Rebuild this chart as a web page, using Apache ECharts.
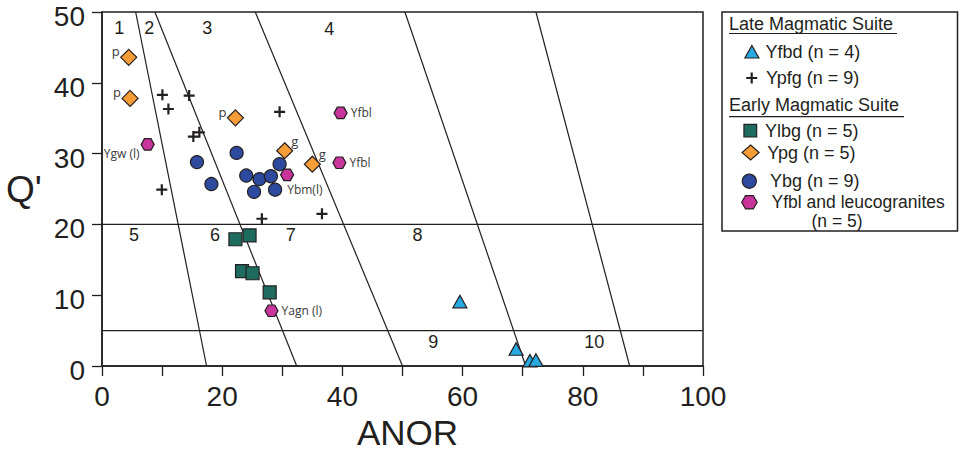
<!DOCTYPE html>
<html>
<head>
<meta charset="utf-8">
<script src="https://cdn.jsdelivr.net/npm/echarts@6/dist/echarts.min.js"></script>
<style>html,body{margin:0;padding:0;background:#fff;}#c{width:959px;height:452px;}</style>
</head>
<body>
<div id="c"></div>
<script>
// ---------- data ----------
const xTickLabels = [0, 20, 40, 60, 80, 100];
const yTickLabels = [0, 10, 20, 30, 40, 50];

const yfbd = [[59.55, 9.1], [68.9, 2.4], [71.2, 0.75], [72.2, 0.85]];
const ypfg = [[10.05, 38.3], [11.05, 36.3], [14.5, 38.2], [15.2, 32.4], [16.2, 33.0], [9.95, 24.9], [29.55, 35.9], [26.6, 20.8], [36.6, 21.5]];
const ylbg = [[22.2, 17.9], [24.55, 18.45], [23.3, 13.4], [25.05, 13.1], [27.9, 10.4]];
const ypg = [[4.45, 43.6], [4.67, 37.8], [22.2, 35.05], [30.4, 30.4], [35.0, 28.5]];
const ypgLabels = ['p', 'p', 'p', 'g', 'g'];
const ybg = [[15.8, 28.8], [18.2, 25.7], [22.4, 30.1], [24.0, 26.9], [26.2, 26.4], [28.1, 26.8], [29.55, 28.5], [25.3, 24.6], [28.8, 24.9]];
const ybgLabels = ['', '', '', '', '', '', '', '', 'Ybm(l)'];
const yfbl = [[7.6, 31.3], [30.8, 27.0], [39.7, 35.75], [39.5, 28.7], [28.2, 7.8]];
const yfblLabels = ['Ygw (l)', '', 'Yfbl', 'Yfbl', 'Yagn (l)'];

// field boundaries: ANOR where each line meets Q' = 50 (top) and Q' = 0 (bottom)
const boundaryTopX = [5.6, 8.8, 25.5, 50.4, 72.2];
const boundaryBottomX = [17.4, 32.4, 50.0, 70.5, 87.8];
const qLevels = [20, 5];

const fieldNames = ['1', '2', '3', '4', '5', '6', '7', '8', '9', '10'];
const fieldAnor = [2.88, 7.88, 17.5, 37.8, 5.32, 18.8, 31.4, 52.5, 55.1, 81.9];
const fieldQ = [47.7, 47.7, 47.7, 47.6, 18.5, 18.5, 18.5, 18.5, 3.43, 3.43];

const seriesNames = ['Yfbd (n = 4)', 'Ypfg (n = 9)', 'Ylbg (n = 5)', 'Ypg (n = 5)', 'Ybg (n = 9)', 'Yfbl and leucogranites (n = 5)'];
const groupTitles = ['Late Magmatic Suite', 'Early Magmatic Suite'];

// ---------- styles ----------
const INK = '#231f20';
const LBL = '#3a3a3a';
const AX_FONT = 'Liberation Sans, Arial, sans-serif';
const LG_FONT = 'Liberation Sans, Arial, sans-serif';
const PT_FONT = 'Open Sans, Noto Sans, sans-serif';
const CROSS = 'path://M4,0H6V4H10V6H6V10H4V6H0V4H4Z';
const HEX = 'path://M0,5L2.5,0.67L7.5,0.67L10,5L7.5,9.33L2.5,9.33Z';
const ptLabel = {fontFamily: PT_FONT, fontSize: 12, color: LBL};

const series = [];
// boundary lines
boundaryTopX.forEach((xt, i) => {
  series.push({type: 'line', data: [[xt, 50], [boundaryBottomX[i], 0]], showSymbol: false, symbol: 'none', silent: true,
    lineStyle: {color: INK, width: 1.2}, z: 1, animation: false});
});
qLevels.forEach(q => {
  series.push({type: 'line', data: [[0, q], [100, q]], showSymbol: false, symbol: 'none', silent: true,
    lineStyle: {color: INK, width: 1.2}, z: 1, animation: false});
});
// field numbers
series.push({type: 'scatter', silent: true, symbolSize: 1, itemStyle: {color: 'rgba(0,0,0,0)', opacity: 1}, z: 2,
  data: fieldNames.map((n, i) => ({value: [fieldAnor[i], fieldQ[i]], label: {show: true, formatter: n}})),
  label: {position: 'inside', fontFamily: AX_FONT, fontSize: 18, color: INK}});

const border = {borderColor: INK, borderWidth: 1.2, opacity: 1};
const emph = {disabled: true};
series.push({name: seriesNames[2], type: 'scatter', symbol: 'rect', symbolSize: 13, z: 3, emphasis: emph,
  itemStyle: Object.assign({color: '#1e6b5f'}, border), data: ylbg});
series.push({name: seriesNames[3], type: 'scatter', symbol: 'diamond', symbolSize: [16, 16], z: 3, emphasis: emph,
  itemStyle: Object.assign({color: '#f79d38'}, border),
  data: ypg.map((p, i) => ({value: p, label: Object.assign({show: true, formatter: ypgLabels[i], position: 'inside',
    offset: ypgLabels[i] === 'p' ? [-13, -6] : [10, -10]}, ptLabel, {fontSize: 13})}))});
series.push({name: seriesNames[4], type: 'scatter', symbol: 'circle', symbolSize: 13, z: 3, emphasis: emph,
  itemStyle: Object.assign({color: '#2e4a9e'}, border),
  data: ybg.map((p, i) => ybgLabels[i] ? {value: p, label: Object.assign({show: true, formatter: ybgLabels[i], position: 'right', distance: 5}, ptLabel)} : p)});
series.push({name: seriesNames[5], type: 'scatter', symbol: HEX, symbolSize: [13, 11.5], z: 3, emphasis: emph,
  itemStyle: Object.assign({color: '#c8349a'}, border),
  data: yfbl.map((p, i) => {
    const t = yfblLabels[i];
    if (!t) return p;
    const left = t.indexOf('Ygw') === 0;
    return {value: p, label: Object.assign({show: true, formatter: t, position: left ? 'left' : 'right',
      distance: left ? 1 : 3, offset: left ? [0, 9] : [0, 0]}, ptLabel)};
  })});
series.push({name: seriesNames[1], type: 'scatter', symbol: CROSS, symbolSize: 11, z: 3, emphasis: emph,
  itemStyle: {color: INK, borderWidth: 0, opacity: 1}, data: ypfg});
series.push({name: seriesNames[0], type: 'scatter', symbol: 'triangle', symbolSize: [14, 12.5], z: 3, emphasis: emph,
  itemStyle: Object.assign({color: '#27a9e1'}, border), data: yfbd});

// legends (one per entry so each icon sits where it does in the reference)
const legendSpecs = [
  {name: seriesNames[0], cx: 751.3, cy: 49, w: 14, h: 12.5, tx: 765},
  {name: seriesNames[1], cx: 751.7, cy: 74.5, w: 11, h: 11, tx: 766, noBorder: true},
  {name: seriesNames[2], cx: 749.7, cy: 128, w: 12.7, h: 12.7, tx: 764.3},
  {name: seriesNames[3], cx: 750, cy: 151, w: 17, h: 15, tx: 766.7},
  {name: seriesNames[4], cx: 748.7, cy: 179.2, w: 14, h: 14, tx: 769.3},
  {name: seriesNames[5], cx: 748.8, cy: 200, w: 15.5, h: 13.5, tx: 771, text: 'Yfbl and leucogranites', fs: 17.5}
];
const legend = legendSpecs.map(s => ({
  data: [s.name], orient: 'vertical', padding: 0, selectedMode: false,
  left: s.cx - s.w / 2, top: s.cy - s.h / 2, itemWidth: s.w, itemHeight: s.h,
  itemStyle: s.noBorder ? {borderWidth: 0, opacity: 1} : {borderColor: INK, borderWidth: 1.2, opacity: 1},
  formatter: s.text ? (() => s.text) : '{name}',
  textStyle: {fontFamily: LG_FONT, fontSize: s.fs || 18, color: INK, lineHeight: s.h,
    padding: [0, 0, 0, Math.max(0, s.tx - (s.cx + s.w / 2 + 5))]}
}));

const option = {
  animation: false,
  backgroundColor: '#fff',
  grid: {left: 102, top: 12, right: 256, bottom: 86, containLabel: false, outerBoundsMode: 'none',
    show: true, borderColor: INK, borderWidth: 1.5, backgroundColor: 'transparent'},
  xAxis: {
    type: 'value', min: 0, max: 100, interval: 10,
    name: 'ANOR', nameLocation: 'middle', nameGap: 48,
    nameTextStyle: {fontFamily: AX_FONT, fontSize: 35, lineHeight: 30, color: INK, padding: [0, 0, 0, 10]},
    axisLine: {show: true, onZero: false, lineStyle: {color: INK, width: 1.5}},
    axisTick: {show: true, inside: false, length: 10, lineStyle: {color: INK, width: 1.3}},
    axisLabel: {fontFamily: AX_FONT, fontSize: 28, color: INK, margin: 16,
      formatter: v => xTickLabels.indexOf(v) >= 0 ? String(v) : ''},
    splitLine: {show: false}
  },
  yAxis: {
    type: 'value', min: 0, max: 50, interval: 10,
    name: "Q'", nameLocation: 'middle', nameRotate: 0, nameGap: 78,
    nameTextStyle: {fontFamily: AX_FONT, fontSize: 37, color: INK, align: 'center', verticalAlign: 'middle', padding: [0, 0, 8, 0]},
    axisLine: {show: true, onZero: false, lineStyle: {color: INK, width: 1.5}},
    axisTick: {show: true, inside: false, length: 10, lineStyle: {color: INK, width: 1.3}},
    axisLabel: {fontFamily: AX_FONT, fontSize: 28, color: INK, margin: 17, verticalAlign: 'top', lineHeight: 9,
      formatter: v => yTickLabels.indexOf(v) >= 0 ? String(v) : ''},
    splitLine: {show: false}
  },
  legend: legend,
  graphic: [
    {type: 'rect', shape: {x: 722, y: 12, width: 235.5, height: 219}, style: {fill: 'none', stroke: INK, lineWidth: 1.5}, silent: true},
    {type: 'text', x: 729, y: 23.5, style: {text: groupTitles[0], font: '18px ' + LG_FONT, fill: INK, verticalAlign: 'middle'}, silent: true},
    {type: 'line', shape: {x1: 729, y1: 33.5, x2: 897, y2: 33.5}, style: {stroke: INK, lineWidth: 1.2}, silent: true},
    {type: 'text', x: 729, y: 104.5, style: {text: groupTitles[1], font: '18px ' + LG_FONT, fill: INK, verticalAlign: 'middle'}, silent: true},
    {type: 'line', shape: {x1: 729, y1: 116.7, x2: 904, y2: 116.7}, style: {stroke: INK, lineWidth: 1.2}, silent: true},
    {type: 'text', x: 837, y: 221, style: {text: '(n = 5)', font: '17.5px ' + LG_FONT, fill: INK, align: 'center', verticalAlign: 'middle'}, silent: true}
  ],
  series: series
};

const chart = echarts.init(document.getElementById('c'), null, {renderer: 'svg'});
chart.setOption(option);
</script>
</body>
</html>
